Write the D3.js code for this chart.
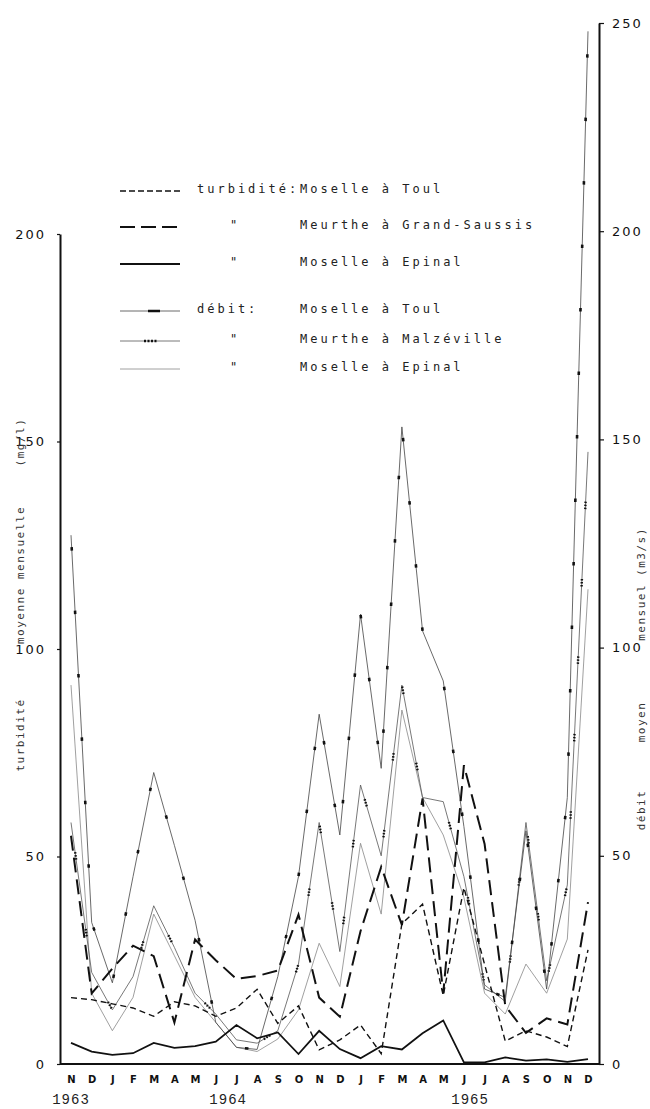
<!DOCTYPE html>
<html>
<head>
<meta charset="utf-8">
<script src="https://cdn.jsdelivr.net/npm/d3@7"></script>
<style>
  body { margin: 0; background: #fff; }
  svg { display: block; }
</style>
</head>
<body>
<script>
let width = 650;
let height = 1109;

// mois nov. 1963 -> dec. 1965
const months = ["N","D","J","F","M","A","M","J","J","A","S","O","N","D","J","F","M","A","M","J","J","A","S","O","N","D"];
const years = [{label: "1963", at: 0}, {label: "1964", at: 7.6}, {label: "1965", at: 19.3}];
const leftTicks = [0, 50, 100, 150, 200];
const rightTicks = [0, 50, 100, 150, 200, 250];

// turbidite (mg/l)
const turbToul     = [16, 15.5, 14.5, 13.5, 11.5, 15, 14, 11.5, 13.5, 18, 9.8, 14, 3.4, 5.8, 9.4, 2.5, 33.8, 38.5, 16.5, 42.5, 24, 5.5, 8, 6.5, 4.2, 27.5];
const turbMeurthe  = [55, 17, 23, 28.5, 26, 10, 30, 25, 20.5, 21.2, 22.5, 36, 16, 11.4, 32, 47.5, 33.5, 64, 17, 72, 53, 14, 7.5, 11, 9.5, 39];
const turbEpinal   = [5.1, 3, 2.2, 2.6, 5.1, 3.9, 4.3, 5.4, 9.4, 6.2, 7.6, 2.4, 8, 3.6, 1.4, 4.3, 3.5, 7.4, 10.5, 0.4, 0.4, 1.6, 0.8, 1.1, 0.5, 1.2];
// debit (m3/s)
const debitToul    = [127, 34, 19.5, 45, 70, 52.5, 34.5, 10, 4, 3.5, 21, 45, 84, 55, 108, 71, 153, 104, 92, 57, 18, 16, 56, 18, 64, 248];
const debitMalz    = [58, 22, 13, 21, 38, 28, 17, 12, 5.8, 5, 8, 24, 58, 27, 67, 50, 91, 64, 63, 45, 19, 15, 58, 20, 43, 147];
const debitEpinal  = [91, 17, 8, 16, 36, 26, 16, 10, 4, 3, 6, 13, 29, 18.6, 53, 36, 85, 64, 55, 40, 17, 12, 24, 17, 30, 114];

let svg = d3.select('body')
  .append('svg')
  .attr('width', width)
  .attr('height', height)
  .style('background', '#fff');

let x = d3.scaleLinear().domain([0, 25]).range([71, 588]);
let yL = d3.scaleLinear().domain([0, 200]).range([1064, 234]);
let yR = d3.scaleLinear().domain([0, 250]).range([1064, 23]);

let mono = "'DejaVu Sans Mono', monospace";

// axes
let gl = svg.append('g')
  .attr('transform', 'translate(60,0)')
  .call(d3.axisLeft(yL).tickValues(leftTicks).tickSize(3).tickSizeOuter(0).tickPadding(11));
let gr = svg.append('g')
  .attr('transform', 'translate(599,0)')
  .call(d3.axisRight(yR).tickValues(rightTicks).tickSize(5).tickSizeOuter(0).tickPadding(8));
[gl, gr].forEach(function (g) {
  g.select('.domain').attr('stroke', '#111').attr('stroke-width', 2);
  g.selectAll('.tick line').attr('stroke', '#111').attr('stroke-width', 1.2);
  g.selectAll('.tick text')
    .style('font-family', "'DejaVu Sans', sans-serif")
    .style('font-size', '13px')
    .style('letter-spacing', '2px')
    .attr('fill', '#111');
});

let gb = svg.append('g')
  .attr('transform', 'translate(0,1064)')
  .call(d3.axisBottom(x).tickValues(d3.range(months.length)).tickFormat(function (d) { return months[d]; }).tickSize(0).tickPadding(12));
gb.select('.domain').attr('d', 'M60,0H599').attr('stroke', '#111').attr('stroke-width', 1.8);
gb.selectAll('.tick text')
  .style('font-family', "'DejaVu Sans', sans-serif")
  .style('font-weight', 'bold')
  .style('font-size', '10px')
  .attr('fill', '#111');

svg.append('g')
  .selectAll('text')
  .data(years)
  .enter()
  .append('text')
  .attr('x', function (d) { return x(d.at); })
  .attr('y', 1104)
  .attr('text-anchor', 'middle')
  .style('font-family', "'Liberation Mono', monospace")
  .style('font-size', '14px')
  .style('letter-spacing', '1px')
  .attr('fill', '#222')
  .text(function (d) { return d.label; });

// titres des axes
let leftTitle = [{t: "turbidité", y: 735}, {t: "moyenne mensuelle", y: 575}, {t: "(mg/l)", y: 442}];
let rightTitle = [{t: "débit", y: 810}, {t: "moyen", y: 722}, {t: "mensuel (m3/s)", y: 584}];
svg.append('g').selectAll('text').data(leftTitle).enter().append('text')
  .attr('transform', function (d) { return 'translate(24,' + d.y + ') rotate(-90)'; })
  .attr('text-anchor', 'middle')
  .style('font-family', mono).style('font-size', '11px').style('letter-spacing', '1.5px')
  .attr('fill', '#333')
  .text(function (d) { return d.t; });
svg.append('g').selectAll('text').data(rightTitle).enter().append('text')
  .attr('transform', function (d) { return 'translate(645,' + d.y + ') rotate(-90)'; })
  .attr('text-anchor', 'middle')
  .style('font-family', mono).style('font-size', '11px').style('letter-spacing', '1.5px')
  .attr('fill', '#333')
  .text(function (d) { return d.t; });

// styles des series
let series = [
  {values: debitEpinal, scale: yR, w: 0.8, color: '#888', dash: null},
  {values: debitMalz, scale: yR, w: 0.8, color: '#555', dash: null, marks: '1.5,1.5,1.5,1.5,1.5,70', mw: 2.4, off: -30},
  {values: debitToul, scale: yR, w: 0.8, color: '#444', dash: null, marks: '3.5,60', mw: 2.6, off: -12},
  {values: turbEpinal, scale: yL, w: 1.8, color: '#111', dash: null},
  {values: turbMeurthe, scale: yL, w: 2, color: '#111', dash: '15,7'},
  {values: turbToul, scale: yL, w: 1.4, color: '#111', dash: '6,4'}
];

series.forEach(function (s) {
  let line = d3.line()
    .x(function (d, i) { return x(i); })
    .y(function (d) { return s.scale(d); });
  svg.append('path')
    .datum(s.values)
    .attr('d', line)
    .attr('fill', 'none')
    .attr('stroke', s.color)
    .attr('stroke-width', s.w)
    .attr('stroke-dasharray', s.dash)
    .attr('stroke-linejoin', 'miter');
  if (s.marks) {
    svg.append('path')
      .datum(s.values)
      .attr('d', line)
      .attr('fill', 'none')
      .attr('stroke', '#111')
      .attr('stroke-width', s.mw)
      .attr('stroke-dasharray', s.marks)
      .attr('stroke-dashoffset', s.off);
  }
});

// legende
let legendRows = [
  {lead: "turbidité:", name: "Moselle à Toul", y: 189, w: 1.4, dash: '6,3', color: '#111'},
  {lead: "\"", name: "Meurthe à Grand-Saussis", y: 225, w: 2, dash: '15,6', color: '#111'},
  {lead: "\"", name: "Moselle à Epinal", y: 262, w: 1.8, dash: null, color: '#111'},
  {lead: "débit:", name: "Moselle à Toul", y: 309, w: 0.8, dash: null, color: '#444', marks: '0,28,12,20'},
  {lead: "\"", name: "Meurthe à Malzéville", y: 339, w: 0.8, dash: null, color: '#555', marks: '0,24,2,1.5,2,1.5,2,1.5,2,40'},
  {lead: "\"", name: "Moselle à Epinal", y: 367, w: 0.8, dash: null, color: '#888'}
];
let lg = svg.append('g');
legendRows.forEach(function (r) {
  lg.append('line')
    .attr('x1', 120).attr('x2', 180).attr('y1', r.y + 2).attr('y2', r.y + 2)
    .attr('stroke', r.color).attr('stroke-width', r.w).attr('stroke-dasharray', r.dash);
  if (r.marks) {
    lg.append('line')
      .attr('x1', 120).attr('x2', 180).attr('y1', r.y + 2).attr('y2', r.y + 2)
      .attr('stroke', '#111').attr('stroke-width', 2.4).attr('stroke-dasharray', r.marks);
  }
  lg.append('text')
    .attr('x', r.lead === "\"" ? 230 : 197)
    .attr('y', r.y + 4)
    .style('font-family', mono).style('font-size', '12px').style('letter-spacing', '3px')
    .attr('fill', '#222')
    .text(r.lead);
  lg.append('text')
    .attr('x', 300)
    .attr('y', r.y + 4)
    .style('font-family', mono).style('font-size', '12px').style('letter-spacing', '3px')
    .attr('fill', '#222')
    .text(r.name);
});
</script>
</body>
</html>
